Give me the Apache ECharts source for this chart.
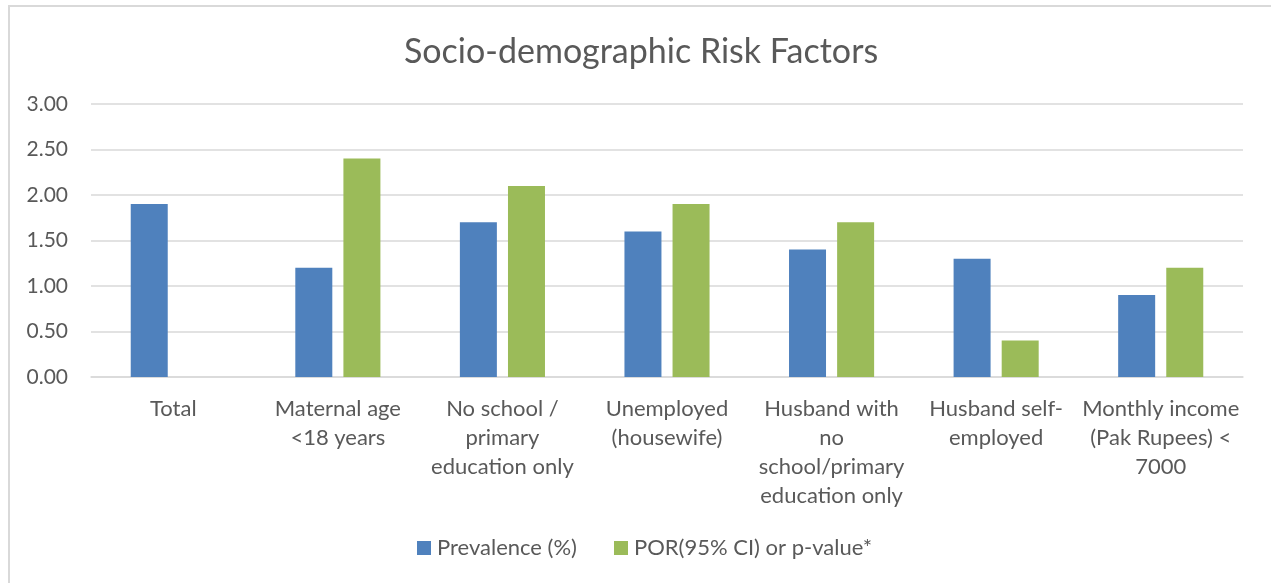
<!DOCTYPE html>
<html>
<head>
<meta charset="utf-8">
<script src="https://cdn.jsdelivr.net/npm/echarts@6/dist/echarts.min.js"></script>
<style>
  html, body { margin: 0; padding: 0; background: #fff; }
  #frame { position: absolute; left: 8px; top: 5px; width: 1300px; height: 620px;
           border-left: 2px solid #d9d9d9; border-top: 2px solid #d9d9d9; box-sizing: border-box; }
  #chart { position: absolute; left: 0; top: 0; width: 1271px; height: 583px; }
</style>
</head>
<body>
<div id="frame"></div>
<div id="chart"></div>
<script>
const categories = [
  "Total",
  "Maternal age\n<18 years",
  "No school /\nprimary\neducation only",
  "Unemployed\n(housewife)",
  "Husband with\nno\nschool/primary\neducation only",
  "Husband self-\nemployed",
  "Monthly income\n(Pak Rupees) <\n7000"
];
const prevalence = [1.9, 1.2, 1.7, 1.6, 1.4, 1.3, 0.9];
const porValues = [null, 2.4, 2.1, 1.9, 1.7, 0.4, 1.2];
const seriesNames = ["Prevalence (%)", "POR(95% CI) or p-value*"];

const FONT = "Lato";
const TXT = "#595959";
const chart = echarts.init(document.getElementById('chart'), null, { renderer: 'canvas' });
chart.setOption({
  backgroundColor: 'transparent',
  animation: false,
  title: {
    text: "Socio-demographic Risk Factors",
    left: 404, top: 35, padding: 0,
    textStyle: { fontFamily: FONT, fontSize: 34, fontWeight: 'normal', color: TXT }
  },
  legend: {
    bottom: 24, left: 417, padding: 0,
    itemWidth: 14, itemHeight: 14, itemGap: 37,
    icon: 'rect',
    textStyle: { fontFamily: FONT, fontSize: 22, color: TXT, padding: [0, 0, 0, 1] },
    data: seriesNames
  },
  grid: { left: 91, right: 28, top: 104, bottom: 206, containLabel: false },
  xAxis: {
    type: 'category',
    data: categories,
    axisLine: { lineStyle: { color: '#d9d9d9', width: 1.5 } },
    axisTick: { show: false },
    axisLabel: {
      interval: 0, margin: 17,
      fontFamily: FONT, fontSize: 22, color: TXT, lineHeight: 29, align: 'center'
    }
  },
  yAxis: {
    type: 'value', min: 0, max: 3, interval: 0.5,
    axisLine: { show: false }, axisTick: { show: false },
    splitLine: { lineStyle: { color: '#d9d9d9', width: 1.5 } },
    axisLabel: {
      formatter: v => v.toFixed(2), margin: 23,
      fontFamily: FONT, fontSize: 21, color: TXT
    }
  },
  series: [
    { name: seriesNames[0], type: 'bar', data: prevalence, barWidth: 37, barGap: '30%',
      itemStyle: { color: '#4f81bd' } },
    { name: seriesNames[1], type: 'bar', data: porValues, barWidth: 37, barGap: '30%',
      itemStyle: { color: '#9bbb59' } }
  ]
});
</script>
</body>
</html>
